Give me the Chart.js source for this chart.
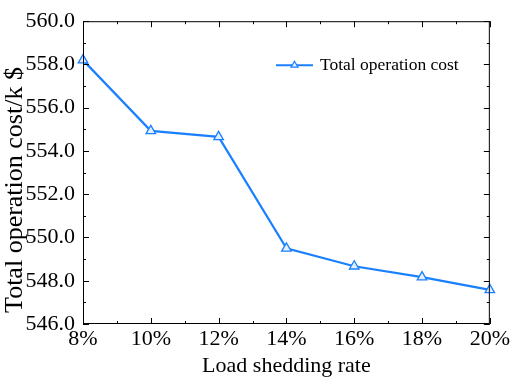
<!DOCTYPE html>
<html lang="en">
<head>
  <meta charset="UTF-8">
  <title>Total operation cost vs load shedding rate</title>
  <script src="https://cdn.jsdelivr.net/npm/chart.js"></script>
  <style>
    body { margin: 0; padding: 0; background: white; }
    #wrap { width: 512px; height: 379px; }
  </style>
</head>
<body>
  <div id="wrap"><canvas id="costChart" width="512" height="379"></canvas></div>

  <script>
    const rates = ['8%', '10%', '12%', '14%', '16%', '18%', '20%'];
    const totalCost = [558.2, 554.93, 554.65, 549.5, 548.67, 548.17, 547.58];
    const seriesName = 'Total operation cost';
    const yTitle = 'Total operation cost/k $';
    const xTitle = 'Load shedding rate';
    const blue = '#1a80ff';
    const serif = "'Liberation Serif', 'Times New Roman', serif";

    // ticks pointing inward on all four sides, the frame, y title and an inline legend
    const framePlugin = {
      id: 'frame',
      afterDraw(chart) {
        const { ctx, chartArea: a, scales: { x, y } } = chart;
        ctx.save();
        ctx.strokeStyle = '#000';
        ctx.lineWidth = 1;
        ctx.strokeRect(a.left + 0.5, a.top + 0.5, a.right - a.left - 1, a.bottom - a.top - 1);
        ctx.beginPath();
        for (let v = 546; v <= 560; v++) {
          const py = Math.round(y.getPixelForValue(v)) + 0.5;
          const len = v % 2 === 0 ? 6 : 3;
          ctx.moveTo(a.left, py); ctx.lineTo(a.left + len, py);
          ctx.moveTo(a.right, py); ctx.lineTo(a.right - len, py);
        }
        for (let i = 0; i < rates.length; i++) {
          const px = Math.round(x.getPixelForValue(i)) + 0.5;
          ctx.moveTo(px, a.bottom); ctx.lineTo(px, a.bottom - 6);
          ctx.moveTo(px, a.top); ctx.lineTo(px, a.top + 6);
          if (i < rates.length - 1) {
            const mx = Math.round(x.getPixelForValue(i + 0.5)) + 0.5;
            ctx.moveTo(mx, a.bottom); ctx.lineTo(mx, a.bottom - 3);
            ctx.moveTo(mx, a.top); ctx.lineTo(mx, a.top + 3);
          }
        }
        ctx.stroke();

        // y axis title, sits a bit below the plot centre like the original
        ctx.fillStyle = '#000';
        ctx.font = '26px ' + serif;
        ctx.textAlign = 'center';
        ctx.textBaseline = 'middle';
        ctx.translate(15, 190);
        ctx.rotate(-Math.PI / 2);
        ctx.fillText(yTitle, 0, 0);
        ctx.setTransform(1, 0, 0, 1, 0, 0);

        // legend
        const ly = a.top + 44;
        const lx = a.left + 193;
        ctx.strokeStyle = blue;
        ctx.lineWidth = 2;
        ctx.beginPath();
        ctx.moveTo(lx, ly); ctx.lineTo(lx + 37, ly);
        ctx.stroke();
        ctx.fillStyle = '#e4f0ff';
        ctx.lineWidth = 1.2;
        ctx.beginPath();
        ctx.moveTo(lx + 18.5, ly - 4); ctx.lineTo(lx + 22, ly + 2); ctx.lineTo(lx + 15, ly + 2);
        ctx.closePath();
        ctx.fill(); ctx.stroke();
        ctx.fillStyle = '#000';
        ctx.font = '17.5px ' + serif;
        ctx.textAlign = 'left';
        ctx.fillText(seriesName, lx + 44, ly);
        ctx.restore();
      }
    };

    new Chart(document.getElementById('costChart'), {
      type: 'line',
      data: {
        labels: rates,
        datasets: [{
          label: seriesName,
          data: totalCost,
          borderColor: blue,
          borderWidth: 2.2,
          backgroundColor: '#e4f0ff',
          pointStyle: 'triangle',
          pointRadius: 5.5,
          pointBorderWidth: 1.3,
          pointBorderColor: blue,
          pointBackgroundColor: '#e4f0ff',
          tension: 0
        }]
      },
      options: {
        responsive: false,
        animation: false,
        layout: { padding: { top: 15, right: 21, left: 0, bottom: 0 } },
        plugins: { legend: { display: false }, tooltip: { enabled: false } },
        scales: {
          x: {
            offset: false,
            grid: { display: false, drawTicks: false },
            border: { display: false },
            ticks: { color: '#000', font: { family: serif, size: 22 }, padding: 2, maxRotation: 0 },
            title: { display: true, text: xTitle, color: '#000', font: { family: serif, size: 22 }, padding: { top: 0, bottom: 0 } },
            afterFit(s) { s.height = 55; }
          },
          y: {
            min: 546, max: 560,
            grid: { display: false, drawTicks: false },
            border: { display: false },
            ticks: { stepSize: 2, color: '#000', font: { family: serif, size: 22 }, padding: 8,
                     callback: v => v.toFixed(1) },
            title: { display: false },
            afterFit(s) { s.width = 83; }
          }
        }
      },
      plugins: [framePlugin]
    });
  </script>
</body>
</html>
